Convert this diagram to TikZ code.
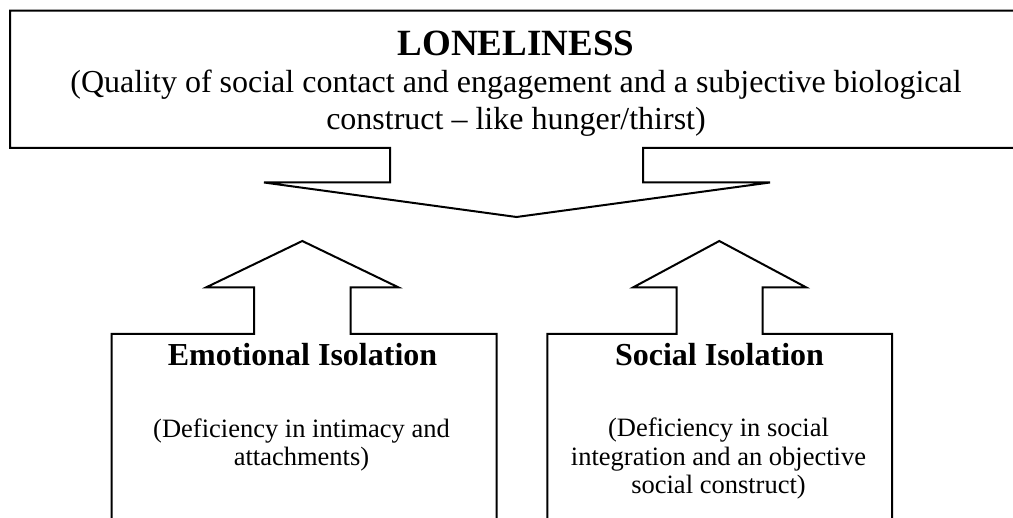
\documentclass[tikz,border=0pt]{standalone}
\usepackage{fontspec}
\setmainfont{Liberation Serif}
\begin{document}
\begin{tikzpicture}[x=1pt,y=-1pt,
  outline/.style={draw=black,line width=2pt,line join=miter},
  title/.style={anchor=base,inner sep=0pt,font=\fontsize{37}{42}\selectfont\bfseries},
  subhead/.style={anchor=base,inner sep=0pt,font=\fontsize{32}{37}\selectfont\bfseries},
  topbody/.style={anchor=base,inner sep=0pt,font=\fontsize{32}{37}\selectfont},
  body/.style={anchor=base,inner sep=0pt,font=\fontsize{26.5}{29}\selectfont}]
\useasboundingbox (0,0) rectangle (1013,518);

% top box merged with the downward block arrow
\draw[outline] (1030,10.7) -- (10,10.7) -- (10,148) -- (390,148) -- (390,182.5)
  -- (264,182.5) -- (516.5,217) -- (770,182.5) -- (643,182.5) -- (643,148) -- (1030,148);

% left box merged with its upward block arrow
\draw[outline] (111.7,530) -- (111.7,334) -- (254,334) -- (254,287.3) -- (206.3,287.3)
  -- (302.3,241) -- (398.3,287.3) -- (350.7,287.3) -- (350.7,334) -- (496.7,334) -- (496.7,530);

% right box merged with its upward block arrow
\draw[outline] (547.3,530) -- (547.3,334) -- (676.7,334) -- (676.7,287.3) -- (633.3,287.3)
  -- (719.3,241) -- (806,287.3) -- (762.7,287.3) -- (762.7,334) -- (892,334) -- (892,530);

% top texts
\node[title] (lonely) at (516,56) {LONELINESS};
\node[topbody] (lonelyA) at (516,92.7) {(Quality of social contact and engagement and a subjective biological};
\node[topbody] (lonelyB) at (516,130) {construct – like hunger/thirst)};

% left box texts
\node[subhead] (emo) at (302.5,366) {Emotional Isolation};
\node[body] (emoA) at (301.5,437.5) {(Deficiency in intimacy and};
\node[body] (emoB) at (301.5,466) {attachments)};

% right box texts
\node[subhead] (soc) at (719.5,366) {Social Isolation};
\node[body] (socA) at (718.5,437) {(Deficiency in social};
\node[body] (socB) at (718.5,465.5) {integration and an objective};
\node[body] (socC) at (718.5,494) {social construct)};
\end{tikzpicture}
\end{document}
